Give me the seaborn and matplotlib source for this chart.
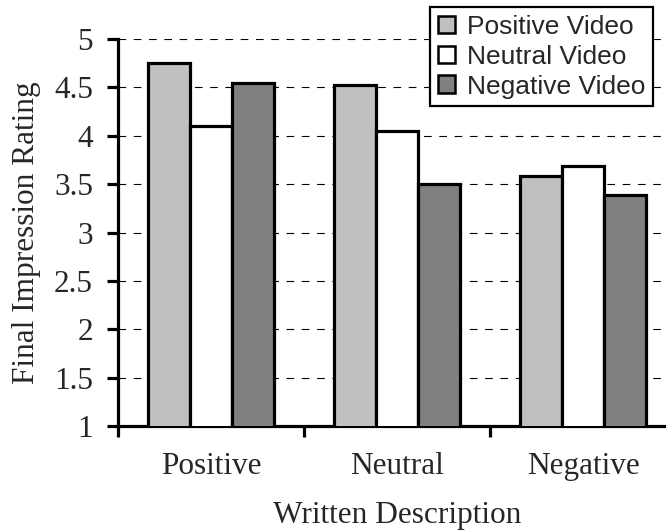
import matplotlib
matplotlib.use("Agg")
import matplotlib.pyplot as plt
import seaborn as sns
import pandas as pd
from matplotlib.patches import Patch
from matplotlib.ticker import FixedLocator

# Final impression ratings by written description and video type
descriptions = ["Positive", "Neutral", "Negative"]
video_types = ["Positive Video", "Neutral Video", "Negative Video"]
positive_video = [4.75, 4.52, 3.58]
neutral_video = [4.10, 4.05, 3.69]
negative_video = [4.55, 3.50, 3.39]
colors = ["#c0c0c0", "#ffffff", "#808080"]
y_ticks = [1, 1.5, 2, 2.5, 3, 3.5, 4, 4.5, 5]
y_tick_labels = ["1", "1.5", "2", "2.5", "3", "3.5", "4", "4.5", "5"]

rows = []
for vt, vals in zip(video_types, [positive_video, neutral_video, negative_video]):
    for d, v in zip(descriptions, vals):
        rows.append({"Written Description": d, "Video": vt, "Rating": v})
df = pd.DataFrame(rows)

sns.set_theme(style="white")
plt.rcParams["font.family"] = ["Liberation Serif", "DejaVu Serif"]
plt.rcParams["lines.scale_dashes"] = False

fig = plt.figure(figsize=(6.66, 5.31), dpi=100)
ax = fig.add_axes([118 / 666, 1 - 426 / 531, (676 - 118) / 666, (426 - 39) / 531])

sns.barplot(data=df, x="Written Description", y="Rating", hue="Video",
            order=descriptions, hue_order=video_types, palette=colors,
            width=0.68, gap=0, edgecolor="black", linewidth=2.3,
            saturation=1, legend=False, ax=ax, zorder=3)

ax.set_ylim(1, 5)
ax.set_xlim(-0.5, 2.5)
ax.set_yticks(y_ticks)
ax.set_yticklabels(y_tick_labels, fontsize=22.5)
ax.yaxis.grid(True, color="black", linestyle=(0, (5.5, 5.5)), linewidth=0.8)
ax.set_axisbelow(True)

# category labels at centers, tick marks on group boundaries
ax.tick_params(axis="x", which="major", length=0, labelsize=22.5, pad=19)
ax.xaxis.set_minor_locator(FixedLocator([-0.5, 0.5, 1.5, 2.5]))
ax.tick_params(axis="x", which="minor", bottom=True, length=8, width=2.3, color="black")
ax.tick_params(axis="y", left=True, length=8, width=2.3, color="black", pad=10)

for s in ["top", "right"]:
    ax.spines[s].set_visible(False)
for s in ["left", "bottom"]:
    ax.spines[s].set_color("black")
    ax.spines[s].set_linewidth(2.3)
ax.spines["bottom"].set_clip_on(False)

ax.set_xlabel("Written Description", fontsize=22.5, labelpad=14)
ax.set_ylabel("Final Impression Rating", fontsize=22.5, labelpad=9)

handles = [Patch(facecolor=c, edgecolor="black", linewidth=1.8) for c in colors]
leg = fig.legend(handles, video_types, loc="upper right",
                 bbox_to_anchor=(653 / 666, 1 - 7 / 531),
                 bbox_transform=fig.transFigure,
                 prop={"family": "Liberation Sans", "size": 19},
                 frameon=True, fancybox=False, framealpha=1, edgecolor="black",
                 handlelength=0.65, handleheight=0.65, handletextpad=0.45,
                 labelspacing=0.22, borderpad=0.3, borderaxespad=0)
leg.get_frame().set_linewidth(1.6)

fig.savefig("out.png", dpi=100)
